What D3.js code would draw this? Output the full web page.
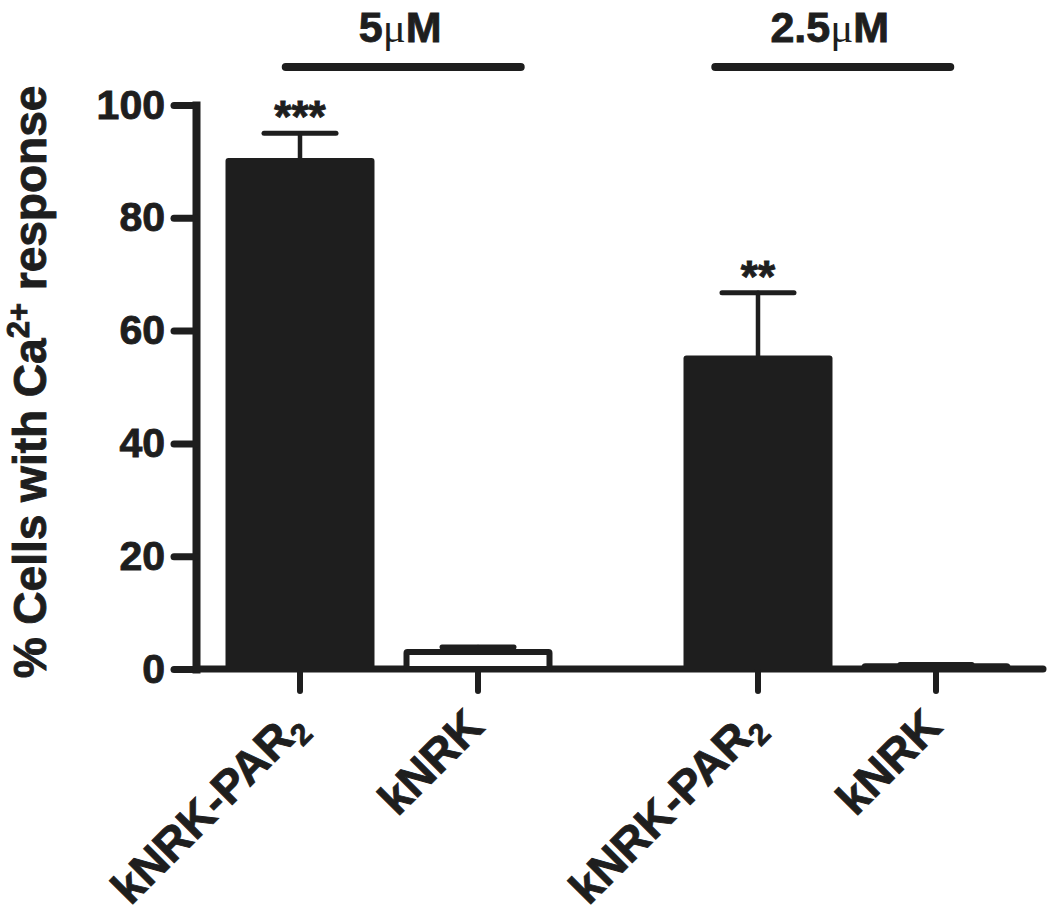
<!DOCTYPE html>
<html>
<head>
<meta charset="utf-8">
<script src="https://cdn.jsdelivr.net/npm/d3@7"></script>
<style>
  body { margin: 0; background: #fff; }
  svg { display: block; font-family: "Liberation Sans", Arial, sans-serif; font-weight: bold; }
  svg text { stroke: #1e1e1e; stroke-width: 0.9px; }
</style>
</head>
<body>
<div id="chart"></div>
<script>
// Data
const groups = ["5", "2.5"];               // concentration, µM
const cellKeys = ["kNRK-PAR2", "kNRK"];
const cellNames = ["kNRK-PAR", "kNRK"];
const cellSubs = ["2", ""];
const barGroup = ["5", "5", "2.5", "2.5"];
const barCell = ["kNRK-PAR2", "kNRK", "kNRK-PAR2", "kNRK"];
const meanValues = [90.6, 3.0, 55.6, 0.5];
const semValues = [4.4, 0.9, 11.1, 0.3];
const filled = [true, false, true, false];
const stars = ["***", "", "**", ""];
const yTicks = [0, 20, 40, 60, 80, 100];
// bracket extent over each group, as a fraction of the group band
const bracketFrom = [0.21, 0.13];
const bracketTo = [0.87, 0.79];

const width = 1050;
const height = 918;
const ink = "#1e1e1e";

const svg = d3.select("#chart").append("svg")
  .attr("width", width)
  .attr("height", height);

const axisX = 196;

const y = d3.scaleLinear().domain([0, 100]).range([669, 105]);

const xGroup = d3.scaleBand()
  .domain(groups)
  .range([211, 1025])
  .paddingInner(0.2227)
  .paddingOuter(0);

const xCell = d3.scaleBand()
  .domain(cellKeys)
  .range([0, xGroup.bandwidth()])
  .paddingInner(0.163)
  .paddingOuter(0.0815);

const bw = xCell.bandwidth();

const bars = meanValues.map((v, i) => ({
  group: barGroup[i],
  cell: barCell[i],
  name: cellNames[cellKeys.indexOf(barCell[i])],
  sub: cellSubs[cellKeys.indexOf(barCell[i])],
  mean: v,
  sem: semValues[i],
  filled: filled[i],
  star: stars[i],
  x: xGroup(barGroup[i]) + xCell(barCell[i])
}));

// Y axis
const yAxis = svg.append("g")
  .attr("transform", `translate(${axisX},0)`)
  .call(d3.axisLeft(y).tickValues(yTicks).tickSize(22).tickSizeOuter(0).tickPadding(9));

yAxis.select(".domain")
  .attr("stroke", ink)
  .attr("stroke-width", 8)
  .attr("stroke-linecap", "square");
yAxis.selectAll(".tick line")
  .attr("stroke", ink)
  .attr("stroke-width", 7)
  .attr("stroke-linecap", "round");
yAxis.selectAll(".tick text")
  .attr("fill", ink)
  .style("font-size", "41px")
  .style("font-weight", "bold")
  .style("font-family", "\"Liberation Sans\", Arial, sans-serif");

// X axis line
svg.append("line")
  .attr("x1", axisX)
  .attr("x2", xGroup.range()[1] + 18)
  .attr("y1", y(0))
  .attr("y2", y(0))
  .attr("stroke", ink)
  .attr("stroke-width", 7)
  .attr("stroke-linecap", "round");

// X ticks
svg.append("g")
  .selectAll("line")
  .data(bars)
  .join("line")
    .attr("x1", d => d.x + bw / 2)
    .attr("x2", d => d.x + bw / 2)
    .attr("y1", y(0))
    .attr("y2", y(0) + 22)
    .attr("stroke", ink)
    .attr("stroke-width", 6)
    .attr("stroke-linecap", "round");

// Error bars
const err = svg.append("g")
  .attr("stroke", ink)
  .attr("stroke-linecap", "round");

err.selectAll("line.stem")
  .data(bars)
  .join("line")
    .attr("class", "stem")
    .attr("x1", d => d.x + bw / 2)
    .attr("x2", d => d.x + bw / 2)
    .attr("y1", d => y(d.mean))
    .attr("y2", d => y(d.mean + d.sem))
    .attr("stroke-width", 4.5);

err.selectAll("line.cap")
  .data(bars)
  .join("line")
    .attr("class", "cap")
    .attr("x1", d => d.x + bw / 2 - 36)
    .attr("x2", d => d.x + bw / 2 + 36)
    .attr("y1", d => y(d.mean + d.sem))
    .attr("y2", d => y(d.mean + d.sem))
    .attr("stroke-width", 5);

// Bars
svg.append("g")
  .selectAll("rect")
  .data(bars)
  .join("rect")
    .attr("x", d => d.filled ? d.x : d.x + 3)
    .attr("width", d => d.filled ? bw : bw - 6)
    .attr("y", d => y(d.mean))
    .attr("height", d => y(0) - y(d.mean))
    .attr("rx", d => d.filled ? 3 : 1)
    .attr("fill", d => d.filled ? ink : "#fff")
    .attr("stroke", d => d.filled ? "none" : ink)
    .attr("stroke-width", 6);

// Significance stars
svg.append("g")
  .attr("text-anchor", "middle")
  .selectAll("text")
  .data(bars.filter(d => d.star))
  .join("text")
    .attr("x", d => d.x + bw / 2)
    .attr("y", d => y(d.mean + d.sem) - 1)
    .attr("fill", ink)
    .style("font-size", "44px")
    .text(d => d.star);

// Category labels
const catLabel = svg.append("g")
  .selectAll("text")
  .data(bars)
  .join("text")
    .attr("text-anchor", "end")
    .attr("transform", d => `translate(${d.x + bw / 2 + 8},729) rotate(-45)`)
    .attr("fill", ink)
    .style("font-size", "46px");

catLabel.append("tspan").text(d => d.name);
catLabel.filter(d => d.sub).append("tspan")
  .attr("dy", 9)
  .style("font-size", "30px")
  .text(d => d.sub);

// Concentration brackets
const bracket = svg.append("g")
  .selectAll("g")
  .data(groups)
  .join("g");

bracket.append("line")
  .attr("x1", (d, i) => xGroup(d) + bracketFrom[i] * xGroup.bandwidth())
  .attr("x2", (d, i) => xGroup(d) + bracketTo[i] * xGroup.bandwidth())
  .attr("y1", 67)
  .attr("y2", 67)
  .attr("stroke", ink)
  .attr("stroke-width", 8)
  .attr("stroke-linecap", "round");

const bracketText = bracket.append("text")
  .attr("text-anchor", "middle")
  .attr("x", (d, i) => xGroup(d) + (bracketFrom[i] + bracketTo[i]) / 2 * xGroup.bandwidth() - 3)
  .attr("y", 42)
  .attr("fill", ink)
  .style("font-size", "43px");

bracketText.append("tspan").text(d => d);
bracketText.append("tspan")
  .style("font-family", "\"Liberation Serif\", \"DejaVu Serif\", serif")
  .style("font-weight", "normal")
  .style("stroke-width", "0px")
  .text("\u03bc");
bracketText.append("tspan").text("M");

// Y axis title
const yTitle = svg.append("text")
  .attr("text-anchor", "middle")
  .attr("transform", "translate(46,382) rotate(-90)")
  .attr("fill", ink)
  .style("font-size", "46px");

yTitle.append("tspan").text("% Cells with Ca");
yTitle.append("tspan")
  .attr("dy", -17)
  .style("font-size", "31px")
  .text("2+");
yTitle.append("tspan")
  .attr("dy", 17)
  .text(" response");
</script>
</body>
</html>
